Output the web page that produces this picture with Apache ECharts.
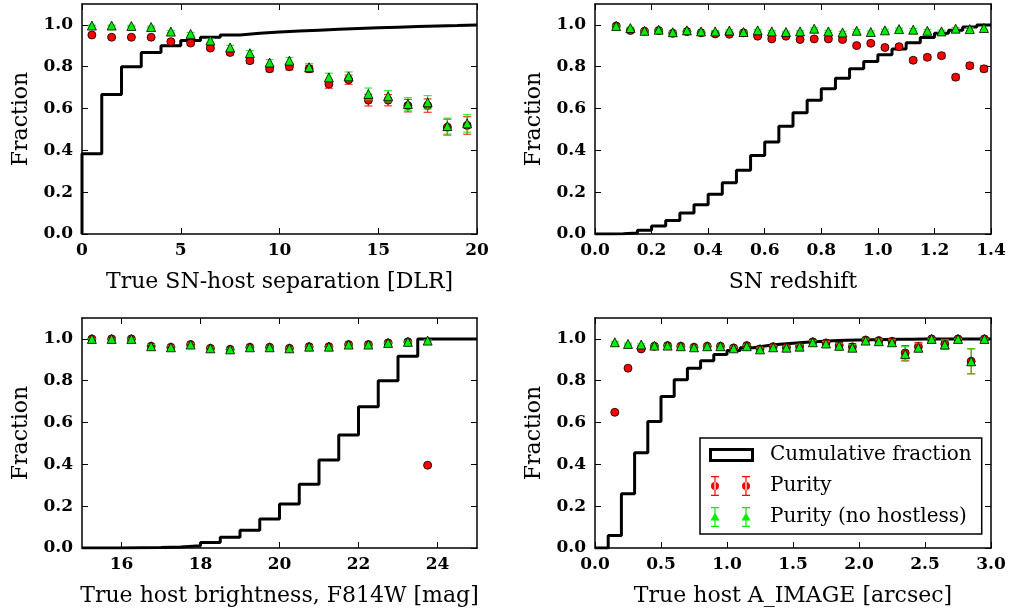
<!DOCTYPE html>
<html><head><meta charset="utf-8">
<script src="https://cdn.jsdelivr.net/npm/echarts@6/dist/echarts.min.js"></script>
<style>html,body{margin:0;padding:0;background:#fff}#c{width:1010px;height:613px}</style>
</head><body><div id="c"></div>
<script>
// ---------- Panel 1: true SN-host separation ----------
const sepEdges = [0,1,2,3,4,5,6,7,8,9,10,11,12,13,14,15,16,17,18,19,20];
const sepCum = [0.384,0.667,0.80,0.868,0.90,0.925,0.941,0.952,0.96,0.966,0.971,0.975,0.979,0.983,0.986,0.989,0.992,0.995,0.997,1.0];
const sepX = [0.5,1.5,2.5,3.5,4.5,5.5,6.5,7.5,8.5,9.5,10.5,11.5,12.5,13.5,14.5,15.5,16.5,17.5,18.5,19.5];
const sepPur = [0.952,0.941,0.941,0.941,0.92,0.913,0.889,0.868,0.829,0.79,0.80,0.79,0.717,0.738,0.64,0.64,0.614,0.614,0.511,0.519];
const sepPurErr = [0.004,0.005,0.005,0.005,0.007,0.008,0.009,0.011,0.013,0.014,0.015,0.017,0.02,0.022,0.028,0.027,0.03,0.032,0.038,0.042];
const sepPurNH = [0.997,0.997,0.995,0.99,0.968,0.957,0.925,0.892,0.865,0.82,0.829,0.798,0.749,0.754,0.67,0.659,0.622,0.63,0.516,0.529];
const sepPurNHErr = [0.002,0.002,0.003,0.004,0.005,0.007,0.009,0.01,0.012,0.014,0.015,0.017,0.02,0.021,0.028,0.027,0.03,0.032,0.038,0.042];
const sepTicks = [0,5,10,15,20];

// ---------- Panel 2: SN redshift ----------
const zEdges = [0,0.05,0.1,0.15,0.2,0.25,0.3,0.35,0.4,0.45,0.5,0.55,0.6,0.65,0.7,0.75,0.8,0.85,0.9,0.95,1.0,1.05,1.1,1.15,1.2,1.25,1.3,1.35,1.4];
const zCum = [0,0.001,0.005,0.018,0.038,0.065,0.10,0.14,0.19,0.245,0.305,0.375,0.44,0.515,0.58,0.64,0.695,0.745,0.79,0.825,0.857,0.885,0.915,0.94,0.96,0.975,0.99,1.0];
const zX = [0.075,0.125,0.175,0.225,0.275,0.325,0.375,0.425,0.475,0.525,0.575,0.625,0.675,0.725,0.775,0.825,0.875,0.925,0.975,1.025,1.075,1.125,1.175,1.225,1.275,1.325,1.375];
const zPur = [0.995,0.973,0.97,0.973,0.96,0.968,0.962,0.957,0.955,0.962,0.946,0.933,0.946,0.93,0.933,0.933,0.93,0.901,0.912,0.892,0.896,0.831,0.845,0.853,0.75,0.805,0.79];
const zPurErr = [0.006,0.006,0.005,0.005,0.005,0.005,0.005,0.005,0.005,0.005,0.006,0.006,0.006,0.006,0.006,0.007,0.007,0.008,0.008,0.009,0.009,0.011,0.011,0.012,0.013,0.013,0.014];
const zPurNH = [0.995,0.985,0.972,0.977,0.965,0.974,0.969,0.969,0.973,0.966,0.974,0.969,0.966,0.969,0.982,0.969,0.964,0.972,0.966,0.974,0.98,0.977,0.972,0.969,0.982,0.98,0.985];
const zPurNHErr = [0.004,0.004,0.004,0.004,0.004,0.004,0.004,0.004,0.004,0.004,0.004,0.004,0.004,0.004,0.004,0.005,0.005,0.005,0.005,0.005,0.005,0.006,0.006,0.006,0.006,0.007,0.007];
const zTicks = [0,0.2,0.4,0.6,0.8,1.0,1.2,1.4];

// ---------- Panel 3: host brightness ----------
const magEdges = [15,15.5,16,16.5,17,17.5,18,18.5,19,19.5,20,20.5,21,21.5,22,22.5,23,23.5,24,24.5,25];
const magCum = [0,0,0.001,0.002,0.005,0.011,0.026,0.051,0.085,0.139,0.21,0.305,0.421,0.541,0.675,0.80,0.917,1.0,1.0,1.0];
const magX = [15.25,15.75,16.25,16.75,17.25,17.75,18.25,18.75,19.25,19.75,20.25,20.75,21.25,21.75,22.25,22.75,23.25,23.75];
const magPur = [1.0,1.0,1.0,0.965,0.96,0.973,0.955,0.95,0.96,0.96,0.955,0.963,0.963,0.973,0.973,0.981,0.986,0.396];
const magPurErr = [0.0,0.0,0.0,0.008,0.007,0.006,0.006,0.005,0.005,0.005,0.004,0.004,0.004,0.003,0.003,0.003,0.003,0.006];
const magPurNH = [1.0,1.0,1.0,0.965,0.96,0.973,0.955,0.95,0.96,0.96,0.955,0.963,0.963,0.973,0.973,0.981,0.986,0.992];
const magPurNHErr = [0.0,0.0,0.0,0.008,0.007,0.006,0.006,0.005,0.005,0.005,0.004,0.004,0.004,0.003,0.003,0.003,0.003,0.004];
const magTicks = [16,18,20,22,24];

// ---------- Panel 4: host A_IMAGE ----------
const aEdges = [0,0.1,0.2,0.3,0.4,0.5,0.6,0.7,0.8,0.9,1.0,1.1,1.2,1.3,1.4,1.5,1.6,1.7,1.8,1.9,2.0,2.1,2.2,2.3,2.4,2.5,2.6,2.7,2.8,2.9,3.0];
const aCum = [0,0.06,0.26,0.455,0.605,0.725,0.805,0.86,0.895,0.925,0.945,0.958,0.967,0.974,0.979,0.984,0.988,0.991,0.993,0.995,0.996,0.997,0.998,0.998,0.999,0.999,1.0,1.0,1.0,1.0];
const aX = [0.15,0.25,0.35,0.45,0.55,0.65,0.75,0.85,0.95,1.05,1.15,1.25,1.35,1.45,1.55,1.65,1.75,1.85,1.95,2.05,2.15,2.25,2.35,2.45,2.55,2.65,2.75,2.85,2.95];
const aPur = [0.649,0.86,0.952,0.965,0.968,0.965,0.96,0.965,0.965,0.957,0.968,0.952,0.963,0.96,0.965,0.986,0.981,0.97,0.962,0.995,0.992,0.989,0.933,0.963,1.0,0.976,1.0,0.893,1.0];
const aPurErr = [0.005,0.005,0.005,0.004,0.004,0.004,0.005,0.005,0.005,0.006,0.006,0.007,0.007,0.008,0.009,0.008,0.01,0.012,0.015,0.008,0.01,0.012,0.035,0.02,0.0,0.022,0.0,0.06,0.0];
const aPurNH = [0.984,0.976,0.973,0.968,0.968,0.965,0.96,0.965,0.965,0.955,0.965,0.95,0.96,0.958,0.963,0.984,0.978,0.967,0.958,0.992,0.989,0.984,0.928,0.958,1.0,0.973,1.0,0.893,1.0];
const aPurNHErr = [0.004,0.004,0.004,0.004,0.004,0.004,0.005,0.005,0.005,0.006,0.006,0.007,0.007,0.008,0.009,0.008,0.01,0.012,0.015,0.008,0.01,0.012,0.035,0.02,0.0,0.022,0.0,0.06,0.0];
const aTicks = [0,0.5,1.0,1.5,2.0,2.5,3.0];

const fracTicks = [0,0.2,0.4,0.6,0.8,1.0];

const FONT = 'DejaVu Serif';
const RED = '#ff0000', GREEN = '#00ee00';

const panels = [
  {grid:{left:82,top:4,width:395,height:230}, xmin:0, xmax:20, ticks:sepTicks, dec:0, name:'True SN-host separation [DLR]',
   edges:sepEdges, cum:sepCum, x:sepX, pur:sepPur, pe:sepPurErr, nh:sepPurNH, ne:sepPurNHErr},
  {grid:{left:595,top:4,width:396,height:230}, xmin:0, xmax:1.4, ticks:zTicks, dec:1, name:'SN redshift',
   edges:zEdges, cum:zCum, x:zX, pur:zPur, pe:zPurErr, nh:zPurNH, ne:zPurNHErr},
  {grid:{left:82,top:318,width:395,height:230}, xmin:15, xmax:25, ticks:magTicks, dec:0, name:'True host brightness, F814W [mag]',
   edges:magEdges, cum:magCum, x:magX, pur:magPur, pe:magPurErr, nh:magPurNH, ne:magPurNHErr},
  {grid:{left:595,top:318,width:396,height:230}, xmin:0, xmax:3.0, ticks:aTicks, dec:1, name:'True host A_IMAGE [arcsec]',
   edges:aEdges, cum:aCum, x:aX, pur:aPur, pe:aPurErr, nh:aPurNH, ne:aPurNHErr}
];

const axisLine = {show:true, onZero:false, lineStyle:{color:'#000', width:1.5}};
const grids = [], xAxes = [], yAxes = [], series = [];

function errRender(color){
  return function(params, api){
    const x = api.value(0), y = api.value(1), e = api.value(2);
    const t = api.coord([x, y + e]), b = api.coord([x, y - e]);
    const hw = 4;
    const st = {stroke: color, lineWidth: 1.2, opacity: 0.8};
    return {type:'group', children:[
      {type:'line', shape:{x1:t[0], y1:t[1], x2:b[0], y2:b[1]}, style:st},
      {type:'line', shape:{x1:t[0]-hw, y1:t[1], x2:t[0]+hw, y2:t[1]}, style:st},
      {type:'line', shape:{x1:b[0]-hw, y1:b[1], x2:b[0]+hw, y2:b[1]}, style:st}
    ]};
  };
}

panels.forEach((p, i) => {
  grids.push(p.grid);
  const fmt = v => (+v).toFixed(p.dec);
  xAxes.push({type:'value', gridIndex:i, position:'bottom', min:p.xmin, max:p.xmax,
    name:p.name, nameLocation:'middle', nameGap:37,
    nameTextStyle:{fontFamily:FONT, fontSize:22, color:'#000'},
    axisLine, splitLine:{show:false},
    axisTick:{show:true, inside:true, length:6, customValues:p.ticks, lineStyle:{color:'#000', width:1}},
    axisLabel:{show:true, customValues:p.ticks, formatter:fmt, margin:8, fontFamily:FONT, fontSize:17, fontWeight:'bold', color:'#000'}
  });
  xAxes.push({type:'value', gridIndex:i, position:'top', min:p.xmin, max:p.xmax,
    axisLine, splitLine:{show:false},
    axisTick:{show:true, inside:true, length:6, customValues:p.ticks, lineStyle:{color:'#000', width:1}},
    axisLabel:{show:false}
  });
  yAxes.push({type:'value', gridIndex:i, position:'left', min:0, max:1.1,
    name:'Fraction', nameLocation:'middle', nameGap:50, nameRotate:90,
    nameTextStyle:{fontFamily:FONT, fontSize:22, color:'#000'},
    axisLine, splitLine:{show:false},
    axisTick:{show:true, inside:true, length:6, customValues:fracTicks, lineStyle:{color:'#000', width:1}},
    axisLabel:{show:true, customValues:fracTicks, formatter:v => (+v).toFixed(1), margin:9, fontFamily:FONT, fontSize:17, fontWeight:'bold', color:'#000'}
  });
  yAxes.push({type:'value', gridIndex:i, position:'right', min:0, max:1.1,
    axisLine, splitLine:{show:false},
    axisTick:{show:true, inside:true, length:6, customValues:fracTicks, lineStyle:{color:'#000', width:1}},
    axisLabel:{show:false}
  });

  // step (cumulative) line built from bin edges and cumulative values
  const stepData = [[p.edges[0], 0]];
  p.cum.forEach((v, k) => stepData.push([p.edges[k], v]));
  stepData.push([p.edges[p.edges.length - 1], p.cum[p.cum.length - 1]]);
  series.push({name:'Cumulative fraction', type:'line', step:'end', xAxisIndex:2*i, yAxisIndex:2*i,
    data:stepData, showSymbol:false, symbol:'none', z:2,
    lineStyle:{color:'#000', width:3}, itemStyle:{color:'#000'}, animation:false});

  series.push({name:'Purity err', type:'custom', xAxisIndex:2*i, yAxisIndex:2*i, z:3,
    renderItem:errRender(RED), encode:{x:0, y:1},
    data:p.x.map((x, k) => [x, p.pur[k], p.pe[k]]), animation:false, silent:true});
  series.push({name:'Purity', type:'scatter', xAxisIndex:2*i, yAxisIndex:2*i, z:4,
    symbol:'circle', symbolSize:8,
    itemStyle:{color:RED, borderColor:'#000', borderWidth:0.8, opacity:1},
    data:p.x.map((x, k) => [x, p.pur[k]]), animation:false});
  series.push({name:'Purity (no hostless) err', type:'custom', xAxisIndex:2*i, yAxisIndex:2*i, z:5,
    renderItem:errRender(GREEN), encode:{x:0, y:1},
    data:p.x.map((x, k) => [x, p.nh[k], p.ne[k]]), animation:false, silent:true});
  series.push({name:'Purity (no hostless)', type:'scatter', xAxisIndex:2*i, yAxisIndex:2*i, z:6,
    symbol:'triangle', symbolSize:[9,9],
    itemStyle:{color:GREEN, borderColor:'#000', borderWidth:0.8, opacity:1},
    data:p.x.map((x, k) => [x, p.nh[k]]), animation:false});
});

const C = 'M0 0h0.01v0.01h-0.01Z M56.99 21.99h0.01v0.01h-0.01Z ';
const iconCum = 'path://' + C + 'M1 4H46V7H1Z M1 15H46V18H1Z M1 7H4V15H1Z M43 7H46V15H43Z';
function ebIcon(x, marker){
  return 'M' + (x-0.6) + ' 1H' + (x+0.6) + 'V21H' + (x-0.6) + 'Z ' +
         'M' + (x-4) + ' 1H' + (x+4) + 'V2.2H' + (x-4) + 'Z ' +
         'M' + (x-4) + ' 19.8H' + (x+4) + 'V21H' + (x-4) + 'Z ' + marker(x);
}
const circ = x => 'M' + (x-4) + ' 11a4 4 0 1 0 8 0a4 4 0 1 0 -8 0Z ';
const tri = x => 'M' + x + ' 6.5L' + (x+4.5) + ' 14.5L' + (x-4.5) + ' 14.5Z ';
const iconPur = 'path://' + C + ebIcon(7, circ) + ebIcon(38, circ);
const iconNH = 'path://' + C + ebIcon(7, tri) + ebIcon(38, tri);

const option = {
  backgroundColor:'#fff',
  animation:false,
  grid:grids, xAxis:xAxes, yAxis:yAxes, series:series,
  legend:{
    left:700, top:438, orient:'vertical', z:20,
    padding:[6, 10, 6, 8], itemGap:9, itemWidth:57, itemHeight:22,
    backgroundColor:'#fff', borderColor:'#000', borderWidth:1.5, borderRadius:0,
    selectedMode:false,
    textStyle:{fontFamily:FONT, fontSize:20, color:'#000'},
    data:[
      {name:'Cumulative fraction', icon:iconCum, itemStyle:{color:'#000', borderWidth:0}},
      {name:'Purity', icon:iconPur, itemStyle:{color:RED, borderWidth:0}},
      {name:'Purity (no hostless)', icon:iconNH, itemStyle:{color:GREEN, borderWidth:0}}
    ]
  }
};
const chart = echarts.init(document.getElementById('c'), null, {renderer:'canvas'});
chart.setOption(option);
</script>
</body></html>
